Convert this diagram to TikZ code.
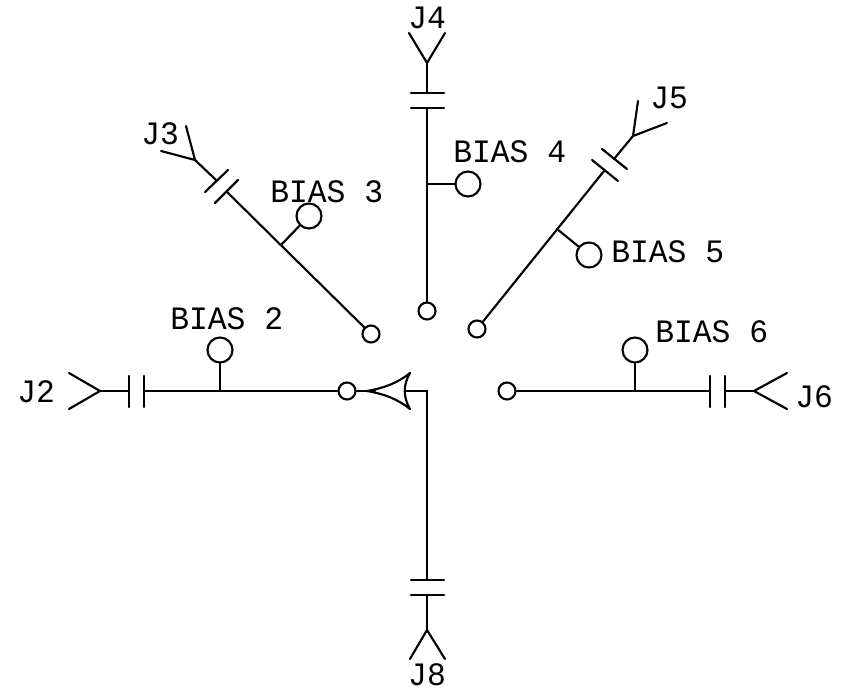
\documentclass[tikz,border=0pt]{standalone}
\usepackage{fontspec}
\newfontfamily\cadfont[FakeStretch=0.96]{Liberation Mono}
\tikzset{
  wire/.style={line width=1.6pt,line cap=round,line join=miter},
  port/.style={circle,draw,line width=1.6pt,inner sep=0pt,minimum size=17*0.75pt},
  biaspad/.style={circle,draw,line width=1.6pt,inner sep=0pt,minimum size=25*0.75pt},
  lab/.style={anchor=west,inner sep=0pt,font=\cadfont\fontsize{24.5pt}{24.5pt}\selectfont},
}
\begin{document}
\begin{tikzpicture}[x=0.75pt,y=-0.75pt]
\useasboundingbox (0,0) rectangle (842,691);
\fill[white] (0,0) rectangle (842,691);
% J2 branch
\node[port] (p2) at (347,391) {};
\node[biaspad] (b2) at (220,350) {};
\coordinate (t2) at (100,391); \coordinate (a2) at (69,373); \coordinate (c2) at (69,409);
\coordinate (ca2) at (129,391); \coordinate (cb2) at (144,391); \coordinate (s2) at (220,391);
\draw[wire] (a2) -- (t2) -- (c2);
\draw[wire] (t2) -- (ca2);
\draw[wire] (129,376) -- (129,407);
\draw[wire] (144,376) -- (144,407);
\draw[wire] (cb2) -- (p2);
\draw[wire] (s2) -- (b2);
\node[lab] (l2) at (170,319) {BIAS 2};
\node[lab] (j2) at (17,392) {J2};
% J3 branch
\node[port] (p3) at (371,334) {};
\node[biaspad] (b3) at (309,216) {};
\coordinate (t3) at (195,160); \coordinate (a3) at (186,126); \coordinate (c3) at (161,151);
\coordinate (ca3) at (216,180); \coordinate (cb3) at (227,192); \coordinate (s3) at (281,245);
\draw[wire] (a3) -- (t3) -- (c3);
\draw[wire] (t3) -- (ca3);
\draw[wire] (228,170) -- (205,192);
\draw[wire] (238,180) -- (215,203);
\draw[wire] (cb3) -- (p3);
\draw[wire] (s3) -- (b3);
\node[lab] (l3) at (270,192) {BIAS 3};
\node[lab] (j3) at (141,134) {J3};
% J4 branch
\node[port] (p4) at (427,311) {};
\node[biaspad] (b4) at (468,184) {};
\coordinate (t4) at (427,63); \coordinate (a4) at (409,33); \coordinate (c4) at (445,33);
\coordinate (ca4) at (427,93); \coordinate (cb4) at (427,108); \coordinate (s4) at (427,184);
\draw[wire] (a4) -- (t4) -- (c4);
\draw[wire] (t4) -- (ca4);
\draw[wire] (411,93) -- (444,93);
\draw[wire] (411,108) -- (444,108);
\draw[wire] (cb4) -- (p4);
\draw[wire] (s4) -- (b4);
\node[lab] (l4) at (453,152) {BIAS 4};
\node[lab] (j4) at (408,18) {J4};
% J5 branch
\node[port] (p5) at (477,329) {};
\node[biaspad] (b5) at (589,255) {};
\coordinate (t5) at (633,136); \coordinate (a5) at (638,101); \coordinate (c5) at (667,123);
\coordinate (ca5) at (614,159); \coordinate (cb5) at (604,171); \coordinate (s5) at (557,229);
\draw[wire] (a5) -- (t5) -- (c5);
\draw[wire] (t5) -- (ca5);
\draw[wire] (602,149) -- (627,169);
\draw[wire] (592,160) -- (618,181);
\draw[wire] (cb5) -- (p5);
\draw[wire] (s5) -- (b5);
\node[lab] (l5) at (611,252) {BIAS 5};
\node[lab] (j5) at (650,98) {J5};
% J6 branch
\node[port] (p6) at (507,391) {};
\node[biaspad] (b6) at (635,350) {};
\coordinate (t6) at (754,391); \coordinate (a6) at (787,373); \coordinate (c6) at (787,409);
\coordinate (ca6) at (725,391); \coordinate (cb6) at (710,391); \coordinate (s6) at (635,391);
\draw[wire] (a6) -- (t6) -- (c6);
\draw[wire] (t6) -- (ca6);
\draw[wire] (725,376) -- (725,407);
\draw[wire] (710,376) -- (710,407);
\draw[wire] (cb6) -- (p6);
\draw[wire] (s6) -- (b6);
\node[lab] (l6) at (655,332) {BIAS 6};
\node[lab] (j6) at (795,397) {J6};
% J8 branch with switch arm
\coordinate (t8) at (427,630); \coordinate (a8) at (410,659); \coordinate (c8) at (445,659);
\coordinate (ca8) at (427,595); \coordinate (cb8) at (427,580);
\coordinate (arm) at (367,391); \coordinate (armu) at (410,373); \coordinate (armd) at (410,409);
\coordinate (armb) at (406,391); \coordinate (bend) at (427,391);
\draw[wire] (a8) -- (t8) -- (c8);
\draw[wire] (t8) -- (ca8);
\draw[wire] (411,595) -- (444,595);
\draw[wire] (411,580) -- (444,580);
\draw[wire] (cb8) -- (bend) -- (armb);
\draw[wire] (arm) .. controls (385,388) and (399,382) .. (armu);
\draw[wire] (arm) .. controls (385,394) and (399,400) .. (armd);
\draw[wire] (armu) .. controls (403,385) and (403,397) .. (armd);
\draw[wire] (p2) -- (375,391);
\node[lab,anchor=center] (j8) at (427,675) {J8};
\end{tikzpicture}
\end{document}
